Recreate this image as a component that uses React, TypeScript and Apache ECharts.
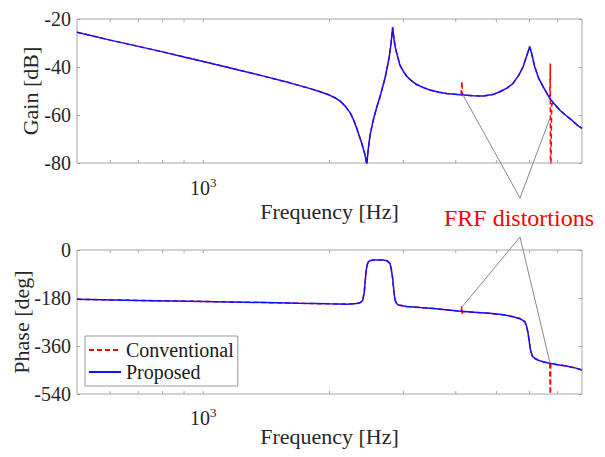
import React, { useEffect, useRef } from 'react';
import * as echarts from 'echarts';

const FONT = '"Liberation Serif", "Times New Roman", serif';
const AXIS = '#a6a6a6';
const TXT = '#262626';

// ---- Gain (top) ----
const gainFreq = [
  500, 600, 700, 800, 900, 1000, 1200, 1400, 1600, 1800, 1900, 2000, 2060, 2120, 2180, 2239, 2280,
  2322, 2387, 2430, 2454, 2475, 2498, 2544, 2590, 2639, 2712, 2750, 2777, 2805, 2829, 2850, 2870,
  2893, 2944, 3000, 3055, 3140, 3227, 3350, 3471, 3650, 3804, 4092, 4400, 4650, 4900, 5095, 5300,
  5480, 5650, 5790, 5900, 6005, 6080, 6170, 6300, 6460, 6700, 6900, 7080, 7300, 7550, 7800, 8000,
];
const gainProposed = [
  -25.5, -28.8, -31.4, -33.7, -35.8, -37.7, -41.0, -43.9, -46.5, -49.0, -50.3, -51.7, -52.8, -54.2,
  -56.3, -59.0, -61.8, -65.5, -71.8, -76.5, -80.5, -74, -68.5, -62, -57, -52.4, -44.7, -39.5, -35.7,
  -30, -23.5, -28.5, -31.8, -34.3, -39.2, -41.8, -43.8, -45.8, -47.3, -48.6, -49.6, -50.5, -51.0,
  -51.6, -52.0, -52.1, -51.5, -50.3, -48.8, -46.8, -43.5, -39.9, -35.5, -31.5, -35.0, -39.9, -44.5,
  -48.2, -53.0, -55.7, -57.9, -60.0, -62.0, -64.3, -65.6,
];
// Conventional = proposed except around the distortions
const gainDistFreq = [4120, 4137, 4152, 6715, 6722, 6730, 6775];
const gainDistVal = [-51.6, -46.0, -51.6, -53.2, -38.5, -95, -55.2];

// ---- Phase (bottom) ----
const phaseFreq = [
  500, 700, 1000, 1400, 1700, 2000, 2200, 2320, 2370, 2400, 2420, 2444, 2460, 2475, 2510, 2544,
  2687, 2740, 2788, 2810, 2829, 2850, 2866, 2890, 2917, 3055, 3300, 3534, 4054, 4500, 4824, 5200,
  5480, 5700, 5844, 5900, 5950, 5990, 6030, 6090, 6170, 6300, 6460, 6700, 7000, 7340, 7700, 8000,
];
const phaseProposed = [
  -185, -189, -193, -197, -200, -202, -203, -201, -197, -189, -160, -81, -55, -44, -39, -37.5,
  -37.5, -40, -50, -75, -106, -160, -187.5, -200, -206, -212, -216, -219, -229, -234, -237.5, -243,
  -250, -258, -269, -285, -312, -345, -375, -398, -406, -414, -419, -425, -430, -435, -442, -450,
];
const phaseDistFreq = [4125, 4132, 4142, 4150, 6715, 6725, 6740];
const phaseDistVal = [-231, -210, -244, -231, -425.5, -600, -426];

// ---- axes ----
const xTickFreqs = [600, 700, 800, 900, 1000, 2000, 3000, 4000, 5000, 6000, 7000];
const gainTicks = { min: -80, max: -20, interval: 20 };
const phaseTicks = { min: -540, max: 0, interval: 180 };

const pairs = (fs: number[], vs: number[]) => fs.map((f, i) => [f, vs[i]]);
const merged = (fs: number[], vs: number[], dfs: number[], dvs: number[]) =>
  [...pairs(fs, vs), ...pairs(dfs, dvs)].sort((a, b) => a[0] - b[0]);

export default function App() {
  const ref = useRef<HTMLDivElement>(null);
  useEffect(() => {
    if (!ref.current) return;
    const chart = echarts.init(ref.current, undefined, { renderer: 'svg' });

    const xAxisBase = (gi: number, labelMargin: number, nameGap: number) => ({
      type: 'log',
      logBase: 10,
      gridIndex: gi,
      min: 500,
      max: 8000,
      axisLine: { show: false },
      axisTick: { show: false },
      splitLine: { show: false },
      minorTick: { show: false },
      axisLabel: {
        margin: labelMargin,
        formatter: (v: number) => (Math.abs(v - 1000) < 1 ? '{a|10}{b|3}' : ''),
        rich: {
          a: { fontFamily: FONT, fontSize: 20, color: TXT, lineHeight: 24 },
          b: { fontFamily: FONT, fontSize: 13, color: TXT, lineHeight: 10, verticalAlign: 'top' },
        },
      },
      name: 'Frequency [Hz]',
      nameLocation: 'middle',
      nameGap,
      nameMoveOverlap: false,
      nameTextStyle: { fontFamily: FONT, fontSize: 22, color: TXT, lineHeight: 22 },
    });

    const yAxisBase = (gi: number, t: any, pos: 'left' | 'right', name?: string, nameGap?: number) => ({
      type: 'value',
      gridIndex: gi,
      position: pos,
      min: t.min,
      max: t.max,
      interval: t.interval,
      axisLine: { show: false },
      axisTick: { show: true, inside: true, length: 3, lineStyle: { color: AXIS } },
      splitLine: { show: false },
      axisLabel: {
        show: pos === 'left',
        margin: 6,
        fontFamily: FONT,
        fontSize: 20,
        color: TXT,
      },
      name: name,
      nameLocation: 'middle',
      nameRotate: 90,
      nameGap: nameGap,
      nameMoveOverlap: false,
      nameTextStyle: { fontFamily: FONT, fontSize: 22, color: TXT, lineHeight: 22 },
    });

    const tickSeries = (xi: number, yi: number, yMin: number, yMax: number) => ({
      type: 'custom',
      xAxisIndex: xi,
      yAxisIndex: yi,
      silent: true,
      clip: false,
      z: 3,
      data: xTickFreqs.map((f) => [f, yMin]),
      renderItem: (_p: any, api: any) => {
        const f = api.value(0);
        const b = api.coord([f, yMin]);
        const t = api.coord([f, yMax]);
        return {
          type: 'group',
          children: [
            { type: 'line', shape: { x1: b[0], y1: b[1], x2: b[0], y2: b[1] - 3 }, style: { stroke: AXIS, lineWidth: 1 } },
            { type: 'line', shape: { x1: t[0], y1: t[1], x2: t[0], y2: t[1] + 3 }, style: { stroke: AXIS, lineWidth: 1 } },
          ],
        };
      },
    });

    const convStyle = { color: '#ff0000', width: 1.5, type: [5, 3] as any };
    const propStyle = { color: '#1010ff', width: 1.5, type: 'solid' as any };

    const gridBase = { show: true, borderColor: AXIS, borderWidth: 1, backgroundColor: 'transparent', containLabel: false, outerBoundsMode: 'none' };

    chart.setOption({
      animation: false,
      backgroundColor: '#ffffff',
      grid: [
        { ...gridBase, left: 77, top: 19, width: 505, height: 144 },
        { ...gridBase, left: 77, top: 250, width: 505, height: 144 },
      ],
      xAxis: [xAxisBase(0, 13, 37), xAxisBase(1, 12, 31)],
      yAxis: [
        yAxisBase(0, gainTicks, 'left', 'Gain [dB]', 36),
        yAxisBase(0, gainTicks, 'right'),
        yAxisBase(1, phaseTicks, 'left', 'Phase [deg]', 45),
        yAxisBase(1, phaseTicks, 'right'),
      ],
      legend: {
        data: ['Conventional', 'Proposed'],
        orient: 'vertical',
        left: 85,
        top: 336,
        itemWidth: 32,
        itemHeight: 14,
        itemGap: 2,
        padding: [4, 4, 4, 3],
        borderColor: '#999999',
        borderWidth: 1,
        backgroundColor: '#ffffff',
        selectedMode: false,
        itemStyle: { opacity: 0, borderWidth: 0 },
        textStyle: { fontFamily: FONT, fontSize: 20, color: '#1a1a1a', lineHeight: 20 },
      },
      series: [
        {
          name: 'Conventional', type: 'line', xAxisIndex: 0, yAxisIndex: 0, symbol: 'none', showSymbol: false,
          lineStyle: convStyle, itemStyle: { color: '#ff0000' },
          data: merged(gainFreq, gainProposed, gainDistFreq, gainDistVal),
        },
        {
          name: 'Proposed', type: 'line', xAxisIndex: 0, yAxisIndex: 0, symbol: 'none', showSymbol: false,
          lineStyle: propStyle, itemStyle: { color: '#1010ff' },
          data: pairs(gainFreq, gainProposed),
        },
        {
          name: 'Conventional', type: 'line', xAxisIndex: 1, yAxisIndex: 2, symbol: 'none', showSymbol: false,
          lineStyle: convStyle, itemStyle: { color: '#ff0000' },
          data: merged(phaseFreq, phaseProposed, phaseDistFreq, phaseDistVal),
        },
        {
          name: 'Proposed', type: 'line', xAxisIndex: 1, yAxisIndex: 2, symbol: 'none', showSymbol: false,
          lineStyle: propStyle, itemStyle: { color: '#1010ff' },
          data: pairs(phaseFreq, phaseProposed),
        },
        tickSeries(0, 0, gainTicks.min, gainTicks.max),
        tickSeries(1, 2, phaseTicks.min, phaseTicks.max),
      ],
      graphic: [
        { type: 'line', shape: { x1: 520, y1: 198, x2: 463, y2: 95 }, style: { stroke: '#888888', lineWidth: 1 }, z: 10 },
        { type: 'line', shape: { x1: 520, y1: 198, x2: 550, y2: 118 }, style: { stroke: '#888888', lineWidth: 1 }, z: 10 },
        { type: 'line', shape: { x1: 520, y1: 237, x2: 462, y2: 307 }, style: { stroke: '#888888', lineWidth: 1 }, z: 10 },
        { type: 'line', shape: { x1: 520, y1: 237, x2: 550, y2: 363 }, style: { stroke: '#888888', lineWidth: 1 }, z: 10 },
        {
          type: 'text', z: 10,
          style: { text: 'FRF distortions', x: 519, y: 218, fill: '#ff0000', fontFamily: FONT, fontSize: 24, align: 'center', verticalAlign: 'middle' },
        },
      ],
    });
    return () => chart.dispose();
  }, []);
  return (
    <div
      ref={ref}
      style={{ position: 'absolute', left: 0, top: 0, width: 605, height: 457, background: '#fff' }}
    />
  );
}
